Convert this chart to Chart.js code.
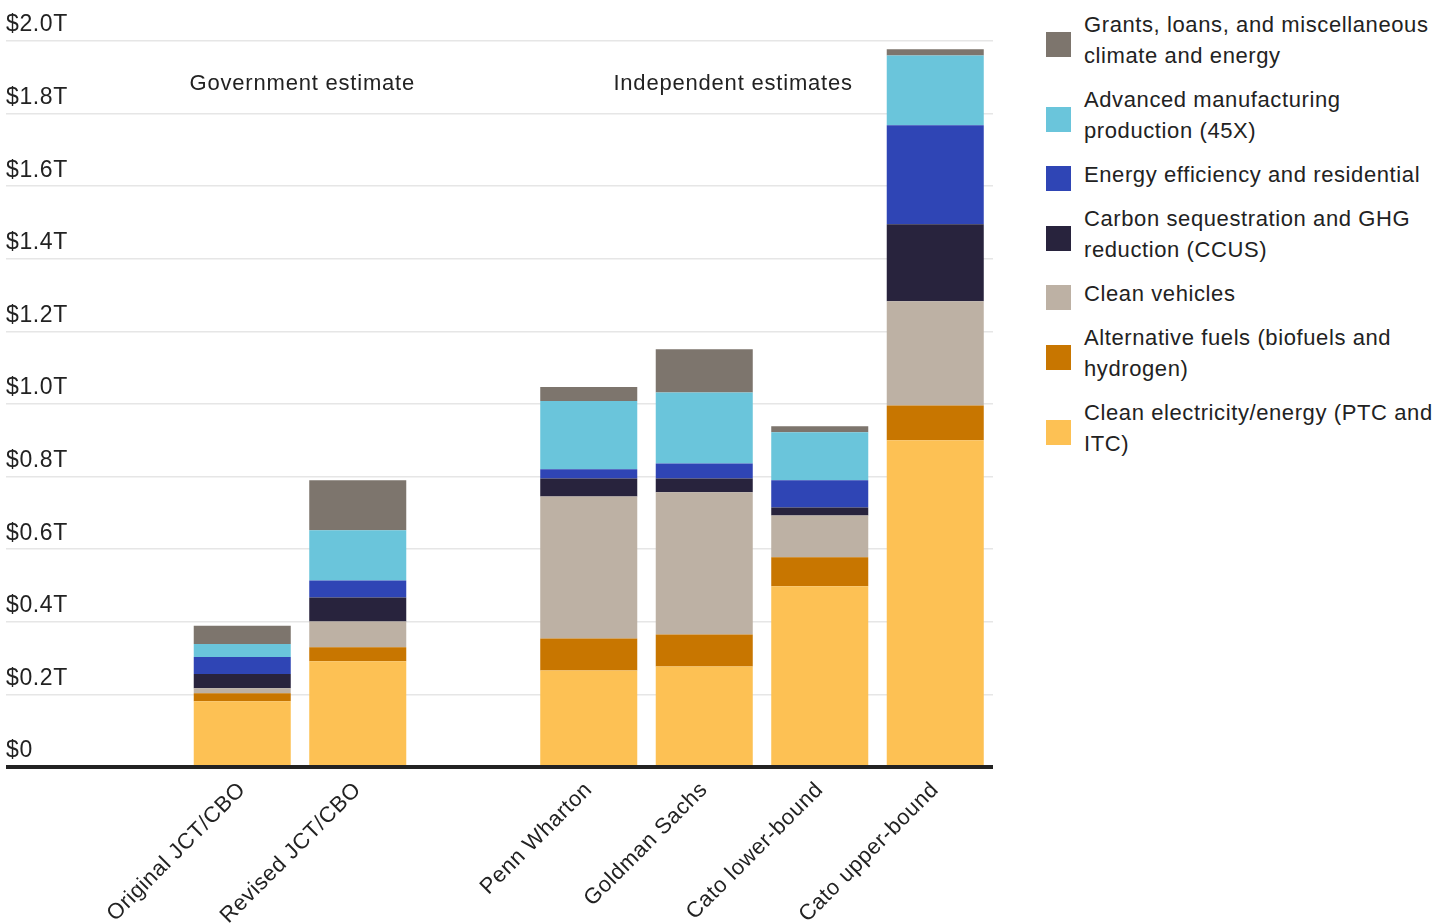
<!DOCTYPE html>
<html><head><meta charset="utf-8">
<script src="https://cdn.jsdelivr.net/npm/chart.js@4.4.1/dist/chart.umd.min.js"></script>
<style>
html,body{margin:0;padding:0;background:#fff;width:1445px;height:924px;overflow:hidden;font-family:"Liberation Sans",Arial,sans-serif;}
#wrap{position:absolute;left:0;top:0;width:1000px;height:924px;}
#legend{position:absolute;left:1046px;top:9px;width:399px;color:#222;font-size:22px;line-height:31px;letter-spacing:0.6px;}
.item{display:flex;align-items:center;margin-bottom:13px;}
.sw{width:25px;height:25px;flex:0 0 25px;margin-right:13px;position:relative;top:4px;}
.txt{white-space:pre-line;}
</style></head>
<body>
<div id="wrap"><canvas id="c"></canvas></div>
<div id="legend"></div>
<script>
// ---- data (trillions of dollars) ----
const categories = ["", "Original JCT/CBO", "Revised JCT/CBO", "", "Penn Wharton", "Goldman Sachs", "Cato lower-bound", "Cato upper-bound"];
const cleanElectricity = [null, 0.181, 0.291, null, 0.266, 0.277, 0.498, 0.900];
const alternativeFuels = [null, 0.022, 0.039, null, 0.088, 0.088, 0.080, 0.096];
const cleanVehicles    = [null, 0.014, 0.071, null, 0.391, 0.392, 0.115, 0.287];
const carbonCCUS       = [null, 0.039, 0.066, null, 0.050, 0.038, 0.022, 0.212];
const energyEfficiency = [null, 0.047, 0.047, null, 0.025, 0.041, 0.075, 0.273];
const advManufacturing = [null, 0.036, 0.138, null, 0.188, 0.196, 0.132, 0.192];
const grantsMisc       = [null, 0.050, 0.138, null, 0.039, 0.119, 0.017, 0.017];
const yTickValues = [0, 0.2, 0.4, 0.6, 0.8, 1.0, 1.2, 1.4, 1.6, 1.8, 2.0];
const yTickLabels = ["$0", "$0.2T", "$0.4T", "$0.6T", "$0.8T", "$1.0T", "$1.2T", "$1.4T", "$1.6T", "$1.8T", "$2.0T"];
const seriesNames = [
  "Clean electricity/energy (PTC and\nITC)",
  "Alternative fuels (biofuels and\nhydrogen)",
  "Clean vehicles",
  "Carbon sequestration and GHG\nreduction (CCUS)",
  "Energy efficiency and residential",
  "Advanced manufacturing\nproduction (45X)",
  "Grants, loans, and miscellaneous\nclimate and energy"
];
const groupLabels = ["Government estimate", "Independent estimates"];

const seriesData = [cleanElectricity, alternativeFuels, cleanVehicles, carbonCCUS, energyEfficiency, advManufacturing, grantsMisc];
const colors = ["#fdc154", "#c87600", "#bdb1a4", "#28233d", "#2f45b5", "#6ac5db", "#7d756d"];
const FONT = '"Liberation Sans", Arial, sans-serif';

const datasets = seriesData.map((d, i) => ({
  label: seriesNames[i],
  data: d,
  backgroundColor: colors[i],
  borderWidth: 0,
  categoryPercentage: 1.0,
  barPercentage: 0.84
}));

const spacingPlugin = {
  id: 'letterSpacing',
  beforeDraw(chart) { chart.ctx.letterSpacing = '0.6px'; }
};

const groupLabelPlugin = {
  id: 'groupLabels',
  afterDatasetsDraw(chart) {
    const {ctx, scales: {x, y}} = chart;
    ctx.save();
    ctx.letterSpacing = '0.8px';
    ctx.font = '22px ' + FONT;
    ctx.fillStyle = '#222';
    ctx.textAlign = 'center';
    ctx.textBaseline = 'middle';
    ctx.fillText(groupLabels[0], x.getPixelForValue(1.52), y.getPixelForValue(1.882));
    ctx.fillText(groupLabels[1], x.getPixelForValue(5.25), y.getPixelForValue(1.882));
    ctx.restore();
  }
};

const chart = new Chart(document.getElementById('c'), {
  type: 'bar',
  data: { labels: categories, datasets },
  plugins: [spacingPlugin, groupLabelPlugin],
  options: {
    responsive: true,
    maintainAspectRatio: false,
    animation: false,
    devicePixelRatio: 1,
    layout: { padding: { left: 6, right: 7, top: 41, bottom: 0 } },
    plugins: { legend: { display: false }, tooltip: { enabled: false } },
    scales: {
      x: {
        stacked: true,
        grid: { display: false, drawTicks: false },
        border: { display: false },
        ticks: {
          autoSkip: false, minRotation: 45, maxRotation: 45, padding: 10,
          color: '#222',
          font: { size: 22, family: FONT }
        },
        afterFit(s) { s.height = 157; s.paddingLeft = 0; s.paddingRight = 0; }
      },
      y: {
        stacked: true,
        min: 0, max: 2.0,
        border: { display: false },
        afterBuildTicks(s) { s.ticks = yTickValues.map(v => ({ value: v })); },
        grid: {
          drawTicks: true,
          tickLength: 63,
          color: c => (c.tick && c.tick.value === 0) ? '#222' : '#e6e6e6',
          lineWidth: c => (c.tick && c.tick.value === 0) ? 4 : 1.5
        },
        ticks: {
          crossAlign: 'far',
          labelOffset: -16,
          padding: 0,
          color: '#222',
          font: { size: 23, family: FONT },
          callback: (v, i) => yTickLabels[yTickValues.indexOf(Math.round(v * 10) / 10)]
        },
        afterFit(s) { s.width = 63; s.paddingTop = 0; s.paddingBottom = 0; }
      }
    }
  }
});

// HTML legend built from the datasets (top of stack first)
const legend = document.getElementById('legend');
datasets.slice().reverse().forEach(ds => {
  const item = document.createElement('div'); item.className = 'item';
  const sw = document.createElement('div'); sw.className = 'sw'; sw.style.background = ds.backgroundColor;
  const tx = document.createElement('div'); tx.className = 'txt'; tx.textContent = ds.label;
  item.appendChild(sw); item.appendChild(tx); legend.appendChild(item);
});
</script>
</body></html>
